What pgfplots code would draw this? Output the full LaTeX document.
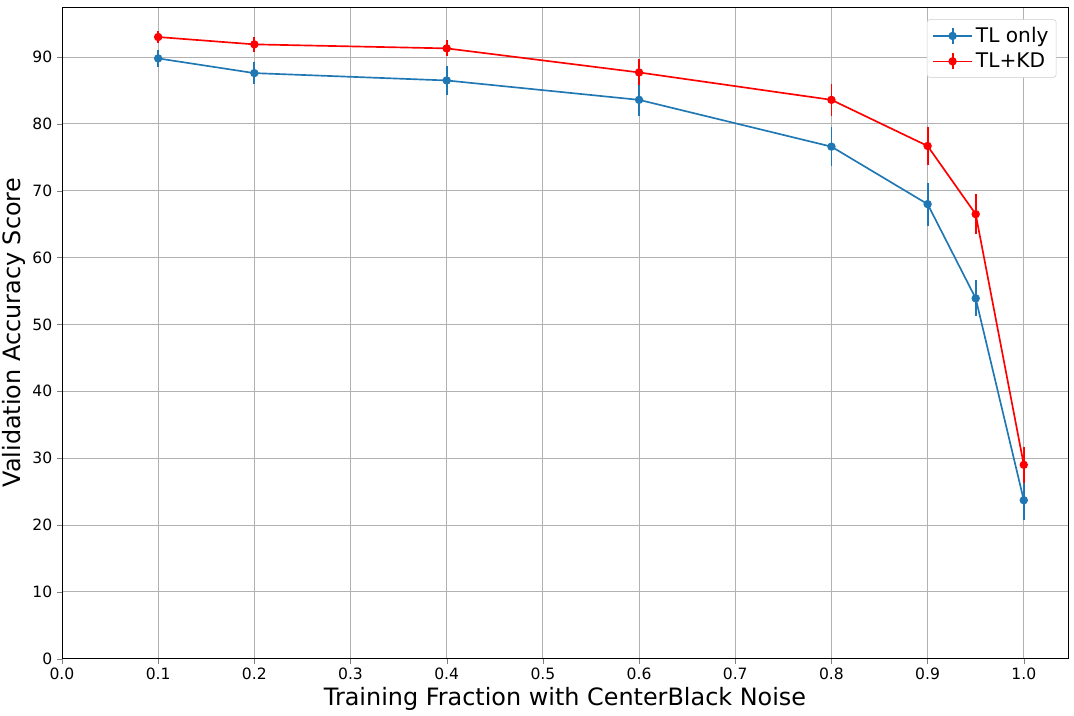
\documentclass[border=0pt]{standalone}
\usepackage{pgfplots}
\pgfplotsset{compat=1.18}
\usepackage{fontspec}
\setmainfont{DejaVu Sans}
\definecolor{tabblue}{HTML}{1F77B4}
\begin{document}
\begin{tikzpicture}
\begin{axis}[
  scale only axis,
  width=724pt, height=469pt,
  xmin=0, xmax=1.046, ymin=0, ymax=97.5,
  xtick={0,0.1,...,1.0},
  ytick={0,10,...,90},
  xticklabel style={/pgf/number format/fixed,/pgf/number format/fixed zerofill,/pgf/number format/precision=1},
  /pgf/number format/assume math mode=true,
  tick label style={font=\fontsize{11.2}{13}\selectfont},
  tick align=outside, tick pos=left,
  major tick length=3.5pt,
  grid=major,
  grid style={color=black!30, line width=0.6pt},
  axis line style={line width=0.6pt},
  xlabel={Training Fraction with CenterBlack Noise},
  ylabel={Validation Accuracy Score},
  label style={font=\fontsize{17.2}{20}\selectfont},
  xlabel style={yshift=2pt},
  ylabel style={yshift=-2pt},
  every error bar/.append style={line width=1.3pt},
  legend style={at={(0.9885,0.981)}, anchor=north east, font=\fontsize{14.5}{17}\selectfont,
    draw=black!20, rounded corners=2pt, row sep=2pt, inner sep=3.5pt},
  legend cell align=left,
  legend image code/.code={
    \draw[#1,mark=none,line width=1.2pt] (0cm,0cm) -- (1.0cm,0cm);
    \draw[#1,mark=none,line width=1.3pt] (0.5cm,-0.2cm) -- (0.5cm,0.2cm);
    \fill[#1] (0.5cm,0cm) circle (2.4pt);
  },
]
\addplot[tabblue, line width=1.2pt, mark=*, mark size=2.4pt,
  error bars/.cd, y dir=both, y explicit, error mark=none]
  table[x=x, y=y, y error=e] {
x y e
0.1 89.8 1.3
0.2 87.6 1.6
0.4 86.5 2.2
0.6 83.6 2.4
0.8 76.6 2.9
0.9 68.0 3.2
0.95 53.9 2.7
1.0 23.7 2.9
};
\addlegendentry{TL only}
\addplot[red, line width=1.2pt, mark=*, mark size=2.4pt,
  error bars/.cd, y dir=both, y explicit, error mark=none]
  table[x=x, y=y, y error=e] {
x y e
0.1 93.0 0.9
0.2 91.9 1.1
0.4 91.3 1.2
0.6 87.7 1.95
0.8 83.6 2.4
0.9 76.7 2.8
0.95 66.5 3.0
1.0 29.0 2.7
};
\addlegendentry{TL+KD}
\end{axis}
\pgfresetboundingbox
\path[use as bounding box] ([shift={(-44.6pt,-41pt)}]current axis.south west) rectangle ([shift={(4.3pt,5pt)}]current axis.north east);
\end{tikzpicture}
\end{document}
